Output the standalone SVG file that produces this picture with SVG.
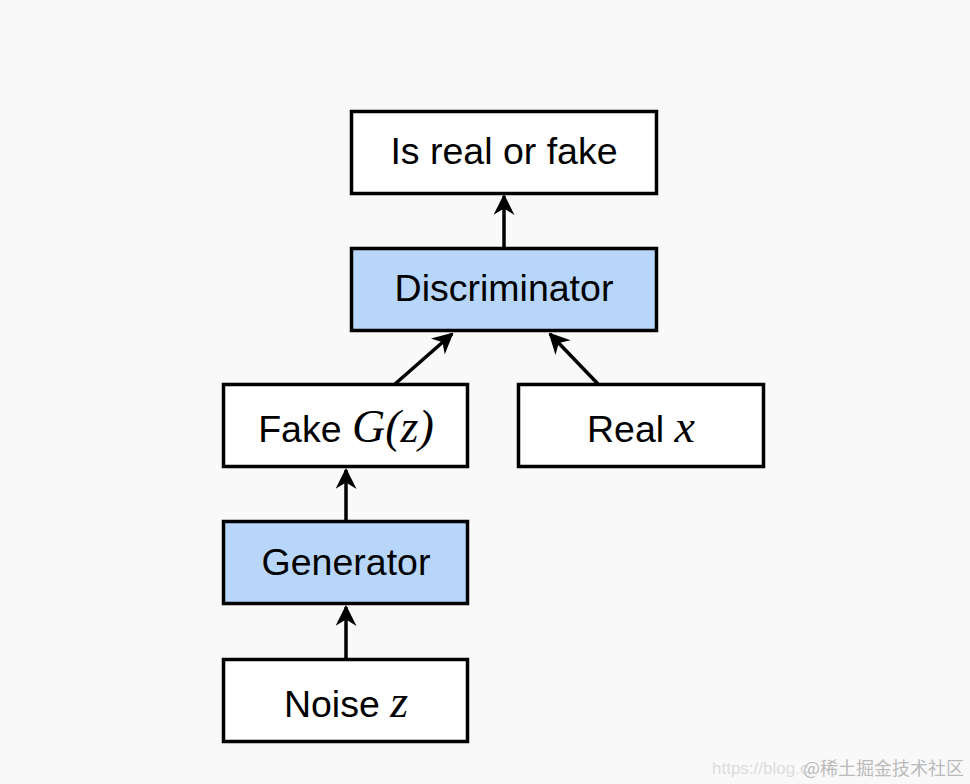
<svg xmlns="http://www.w3.org/2000/svg" width="970" height="784" viewBox="0 0 970 784">
<style>
.box{stroke:#000;stroke-width:3.5;fill:#fff}
.blue{fill:#b7d6fa}
.t{font-family:"Liberation Sans",Arial,sans-serif;font-size:37.5px;fill:#000;text-anchor:middle}
.m{font-family:"Liberation Serif","Times New Roman",serif;font-style:italic;font-size:46px}
.c{stroke:#000;stroke-width:3.5;fill:none;marker-end:url(#ah)}
</style>
<defs>
<marker id="ah" markerWidth="6" markerHeight="6" viewBox="0 0 10 10" refX="9" refY="5" orient="auto" markerUnits="strokeWidth">
<path d="M0,0 L10,5 L0,10 L3,5 z" fill="#000"/>
</marker>
</defs>
<rect width="970" height="784" fill="#f9f9f9"/>
<g id="connectors">
<line class="c" x1="504" y1="248" x2="504" y2="196"/>
<line class="c" x1="395" y1="384" x2="452" y2="334"/>
<line class="c" x1="598" y1="384" x2="550" y2="334"/>
<line class="c" x1="346" y1="521" x2="346" y2="470"/>
<line class="c" x1="346" y1="659" x2="346" y2="607"/>
</g>
<g id="out"><rect class="box" x="351.5" y="111.5" width="305" height="82"/><text class="t" x="504" y="164">Is real or fake</text></g>
<g id="disc"><rect class="box blue" x="351.5" y="248.5" width="305" height="82"/><text class="t" x="504" y="301">Discriminator</text></g>
<g id="fake"><rect class="box" x="223.5" y="384.5" width="244" height="82"/><text class="t" x="346" y="442">Fake <tspan class="m">G</tspan><tspan class="m" font-style="normal">(</tspan><tspan class="m">z</tspan><tspan class="m" font-style="normal">)</tspan></text></g>
<g id="real"><rect class="box" x="518.5" y="384.5" width="245" height="82"/><text class="t" x="641" y="442">Real <tspan class="m">x</tspan></text></g>
<g id="gen"><rect class="box blue" x="223.5" y="521.5" width="244" height="82"/><text class="t" x="346" y="575">Generator</text></g>
<g id="noise"><rect class="box" x="223.5" y="659.5" width="244" height="82"/><text class="t" x="346" y="717">Noise <tspan class="m">z</tspan></text></g>
<g id="watermark">
<text x="712" y="774" font-family="Liberation Sans,sans-serif" fill="#ddd" font-size="17">https://blog.c</text>
<text x="803" y="775" font-family="'Noto Sans CJK SC',sans-serif" fill="#bbb" font-size="18">@稀土掘金技术社区</text>
</g>
</svg>
